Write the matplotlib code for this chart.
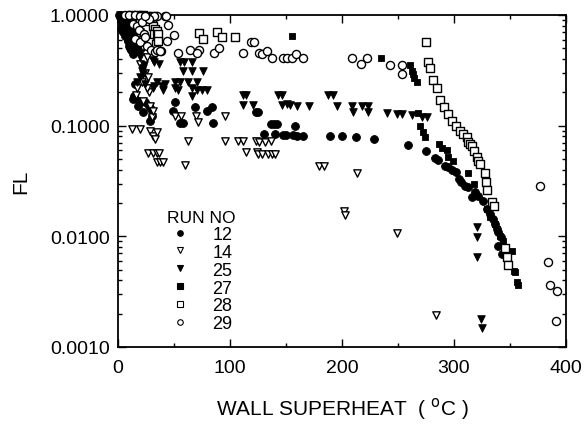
import matplotlib
matplotlib.use("Agg")
import matplotlib.pyplot as plt
from matplotlib.ticker import NullFormatter, MultipleLocator, LogLocator
from matplotlib.lines import Line2D

plt.rcParams['font.family'] = ['Liberation Sans', 'DejaVu Sans']

# ---- data ----
run12_x = [0.5, 2, 4, 6, 3, 5, 7, 4, 6, 8, 7, 9, 8, 10, 9, 11, 12, 10, 13, 12,
           1.5, 3, 5, 2.5, 4.5, 6.5, 8.5, 11, 14, 15, 16, 13.5,
           15.2, 14.3, 18.8, 24.1, 27.7, 29.5, 30.4, 28.6, 13.4, 17.9, 22.3,
           50.9, 49.1, 55.4, 58, 68.8, 79.5, 83.9, 84.8, 123, 125, 136.6, 139.3, 142, 158,
           130.4, 140.2, 147.3, 150, 156, 159.8, 165.2, 189.3, 200, 212.5, 228.6,
           259, 275, 283, 285.7, 292, 294.6, 298.2, 301.8, 304.5, 306.3, 309.8, 312.5,
           316, 318.8, 321.4, 325.9, 329.5, 332, 334.8, 336.6, 338.4, 339.3, 342,
           339.3, 343]
run12_y = [1.0, 1.0, 0.98, 0.97, 0.93, 0.9, 0.87, 0.84, 0.8, 0.77, 0.73, 0.7, 0.66, 0.63, 0.6, 0.57, 0.54, 0.52, 0.5, 0.48,
           0.95, 0.88, 0.82, 0.75, 0.7, 0.64, 0.58, 0.5, 0.46, 0.52, 0.49, 0.44,
           0.24, 0.185, 0.167, 0.164, 0.15, 0.14, 0.122, 0.11, 0.174, 0.15, 0.133,
           0.164, 0.136, 0.106, 0.106, 0.148, 0.136, 0.148, 0.106, 0.133, 0.133, 0.104, 0.104, 0.104, 0.099,
           0.084, 0.084, 0.082, 0.082, 0.082, 0.081, 0.081, 0.081, 0.081, 0.079, 0.076,
           0.067, 0.059, 0.051, 0.049, 0.043, 0.042, 0.040, 0.038, 0.033, 0.031, 0.0285, 0.028,
           0.0227, 0.0252, 0.0232, 0.0209, 0.0177, 0.0159, 0.0144, 0.013, 0.0117, 0.011, 0.0099,
           0.0082, 0.0069]

run14_x = [10, 14, 18, 20, 24, 22, 26, 20, 24, 16, 28, 30,
           26.8, 21.4, 17, 25.9, 22.3, 28.6, 31.3, 50.9, 56.3, 69.6, 71.4, 95.5,
           12.5, 19.6, 28.6, 31.3, 34.8, 33, 62.5, 95.5, 107, 111.6, 123, 126, 131, 136.6,
           114, 124, 125, 128.6, 134, 137.5, 140.2, 26.8, 31.3, 34.8, 36.6, 34.8, 37.5, 40.2,
           59.8, 179.5, 184, 213.4, 201.8, 202.7, 249, 284]
run14_y = [0.98, 0.9, 0.8, 0.7, 0.6, 0.5, 0.42, 0.36, 0.3, 0.19, 0.2, 0.12,
           0.275, 0.25, 0.22, 0.22, 0.167, 0.151, 0.136, 0.122, 0.122, 0.122, 0.108, 0.122,
           0.093, 0.093, 0.09, 0.081, 0.088, 0.076, 0.073, 0.073, 0.073, 0.073, 0.073, 0.071, 0.071, 0.073,
           0.058, 0.058, 0.055, 0.055, 0.055, 0.055, 0.055, 0.057, 0.057, 0.057, 0.057, 0.047, 0.047, 0.047,
           0.044, 0.043, 0.043, 0.037, 0.017, 0.0156, 0.0107, 0.00195]

run25_x = [2, 5, 8, 10, 12, 11, 14, 13, 15, 16, 17, 18, 20, 3, 6, 9, 7, 12,
           19.6, 31.3, 36.6, 22.3, 22.3, 23.2, 32, 21.4, 19.6, 17, 24.1, 32, 39, 42,
           55.4, 58.9, 66, 58, 66, 75.9, 50.9, 55.4, 62.5, 70.5, 34.8, 31.3, 40.2, 50.9, 53.6,
           66, 70.5, 75, 79.5, 66, 111.6, 114.3, 111.6, 120.5, 142.9, 146.4, 146.4, 150.9,
           153.6, 159.8, 170.5, 187.5, 192, 195.5, 209, 209.8, 217.9, 223, 223, 240, 249,
           253.6, 262.5, 271.4, 275.9, 320.5, 320.5, 320.5, 324, 325]
run25_y = [1.0, 0.97, 0.95, 0.9, 0.85, 0.8, 0.75, 0.7, 0.65, 0.6, 0.55, 0.5, 0.45, 0.92, 0.86, 0.8, 0.74, 0.66,
           0.42, 0.39, 0.36, 0.33, 0.29, 0.35, 0.38, 0.31, 0.275, 0.25, 0.24, 0.23, 0.23, 0.24,
           0.38, 0.38, 0.38, 0.31, 0.31, 0.31, 0.25, 0.25, 0.25, 0.25, 0.25, 0.22, 0.21, 0.22, 0.21,
           0.22, 0.21, 0.21, 0.21, 0.185, 0.19, 0.19, 0.154, 0.154, 0.19, 0.19, 0.154, 0.157,
           0.154, 0.151, 0.151, 0.19, 0.19, 0.151, 0.151, 0.133, 0.151, 0.151, 0.133, 0.13, 0.128,
           0.128, 0.125, 0.12, 0.12, 0.0122, 0.0099, 0.0065, 0.0018, 0.0015]

run27_x = [155.4, 234.8, 260.7, 262.5, 263.4, 264.3, 267, 268, 269.6, 272.3, 274.1,
           286.6, 289.3, 293.8, 294.6, 299.1, 312.5, 317.9, 329.5, 332, 336.6, 338.4,
           341, 343.8, 351.8, 353.6, 354.5, 356.3, 357]
run27_y = [0.65, 0.41, 0.35, 0.31, 0.29, 0.27, 0.25, 0.13, 0.10, 0.088, 0.079,
           0.068, 0.063, 0.060, 0.052, 0.048, 0.037, 0.030, 0.0177, 0.015, 0.013, 0.0117,
           0.0101, 0.0091, 0.0074, 0.0049, 0.0048, 0.0039, 0.0036]

run28_x = [12, 18, 22, 26, 30, 28, 31, 33, 32, 35, 34,
           31.3, 34.8, 35.7, 35.7, 72.3, 75.9, 88.4, 92.9, 104.5,
           275, 276.8, 278.6, 281, 284.8, 287.5, 291, 294.6, 298, 301.8, 305, 308, 311.6,
           312.5, 314.3, 316, 317.9, 320.5, 321.4, 323.2, 327.7, 328.6, 329.5, 334, 335.7,
           345.5, 347.3, 348.2]
run28_y = [1.0, 1.0, 0.99, 0.97, 0.93, 0.88, 0.8, 0.74, 0.68, 0.6, 0.55,
           0.98, 0.72, 0.67, 0.58, 0.69, 0.61, 0.70, 0.63, 0.63,
           0.57, 0.38, 0.33, 0.26, 0.22, 0.17, 0.148, 0.128, 0.11, 0.099, 0.090, 0.084, 0.079,
           0.071, 0.068, 0.066, 0.059, 0.052, 0.048, 0.045, 0.037, 0.031, 0.026, 0.0205, 0.0188,
           0.0079, 0.0065, 0.0055]

run29_x = [6, 10, 15, 20, 30, 35, 13.4, 17, 21.4, 18.8, 23.2, 15.2, 19.6, 24.1, 25.9,
           29.5, 33, 34.8, 38.4, 42, 32, 27.7, 24,
           42.9, 44.6, 50, 43.8, 37.5, 53.6, 64.3, 72.3, 70.5, 85.7, 90.2, 111.6, 118.8,
           121.4, 125.9, 128.6, 133, 137.5, 147.3, 150.9, 155.4, 159, 165, 209, 217, 222,
           243, 253.6, 253.6, 376.8, 384, 385.7, 392, 391]
run29_y = [1.0, 1.0, 0.99, 0.98, 0.96, 0.97, 0.83, 0.80, 0.86, 0.73, 0.67, 0.61, 0.57, 0.63, 0.52,
           0.48, 0.46, 0.48, 0.47, 0.98, 0.98, 0.92, 0.98,
           0.98, 0.81, 0.66, 0.58, 0.47, 0.45, 0.48, 0.48, 0.45, 0.45, 0.50, 0.45, 0.57,
           0.57, 0.45, 0.44, 0.47, 0.41, 0.41, 0.41, 0.41, 0.44, 0.41, 0.41, 0.36, 0.41,
           0.35, 0.35, 0.29, 0.0285, 0.0059, 0.0036, 0.0032, 0.0017]

run_labels = ['12', '14', '25', '27', '28', '29']
x_ticks = [0, 100, 200, 300, 400]
y_ticks = [0.001, 0.01, 0.1, 1.0]
y_ticklabels = ['0.0010', '0.0100', '0.1000', '1.0000']

# ---- figure ----
fig = plt.figure(figsize=(5.85, 4.39), dpi=100)
ax = fig.add_axes([118/585, 1 - 348/439, (566-118)/585, (348-16)/439])

styles = [
    dict(marker='o', facecolors='black', edgecolors='black', s=32, linewidths=0.6),
    dict(marker='v', facecolors='white', edgecolors='black', s=28, linewidths=1.0),
    dict(marker='v', facecolors='black', edgecolors='black', s=30, linewidths=0.6),
    dict(marker='s', facecolors='black', edgecolors='black', s=24, linewidths=0.6),
    dict(marker='s', facecolors='white', edgecolors='black', s=26, linewidths=1.0),
    dict(marker='o', facecolors='white', edgecolors='black', s=34, linewidths=1.0),
]
series = [(run12_x, run12_y), (run14_x, run14_y), (run25_x, run25_y),
          (run27_x, run27_y), (run28_x, run28_y), (run29_x, run29_y)]
for (xs, ys), st in zip(series, styles):
    ax.scatter(xs, ys, zorder=3, clip_on=False, **st)

ax.set_yscale('log')
ax.set_xlim(0, 400)
ax.set_ylim(0.001, 1.0)
ax.set_xticks(x_ticks)
ax.xaxis.set_minor_locator(MultipleLocator(50))
ax.set_yticks(y_ticks)
ax.set_yticklabels(y_ticklabels)
ax.yaxis.set_minor_locator(LogLocator(base=10, subs=range(2, 10)))
ax.yaxis.set_minor_formatter(NullFormatter())
ax.tick_params(which='both', direction='in', top=True, right=True, labelsize=14, width=1.0)
ax.tick_params(which='major', length=6, pad=6)
ax.tick_params(axis='x', which='major', pad=9)
ax.tick_params(which='minor', length=3)
for sp in ax.spines.values():
    sp.set_linewidth(1.3)

ax.set_xlabel(r'WALL SUPERHEAT  ( $^{\rm o}$C )', fontsize=15, labelpad=13)
ax.set_ylabel('FL', fontsize=15, labelpad=14)

# legend
handles = []
for st in styles:
    handles.append(Line2D([], [], linestyle='none', marker=st['marker'],
                          markerfacecolor=st['facecolors'], markeredgecolor='black',
                          markersize=4, markeredgewidth=0.8))
leg = ax.legend(handles, run_labels, title='RUN NO', loc='upper left',
                bbox_to_anchor=(0.09, 0.44), frameon=False, fontsize=13,
                title_fontsize=12.5, handletextpad=1.3, labelspacing=0.05,
                borderpad=0.0, handlelength=1.0)

fig.savefig('out.png', dpi=100)
